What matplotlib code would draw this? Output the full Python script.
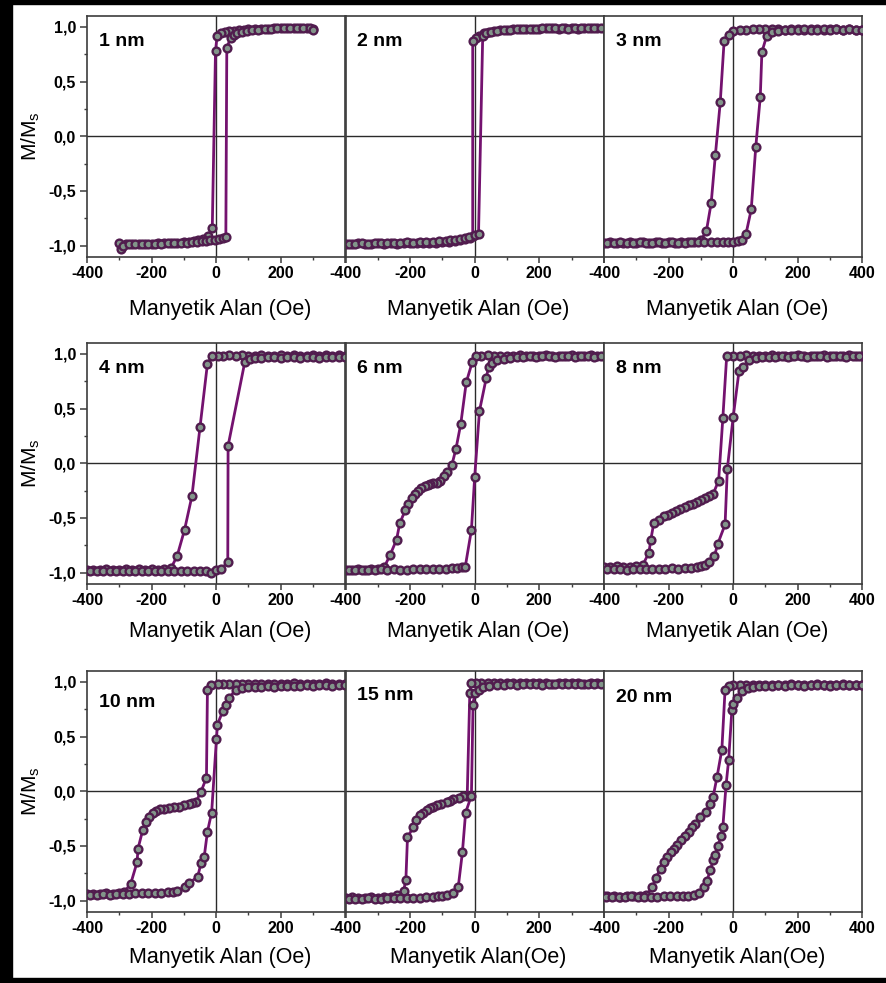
import matplotlib
matplotlib.use("Agg")
import matplotlib.pyplot as plt
from matplotlib.ticker import MultipleLocator, FuncFormatter
from matplotlib.patches import Rectangle

plt.rcParams['font.family'] = ['Liberation Sans', 'DejaVu Sans']
plt.rcParams['mathtext.default'] = 'regular'

# ---------------------------------------------------------------------------
# Hysteresis loops (field in Oe, normalised magnetisation M/Ms)
# Each branch is a list of (H, M) pairs; "DESC" sweeps + -> -, "ASC" - -> +.
# ---------------------------------------------------------------------------
THICKNESS_LABELS = ["1 nm", "2 nm", "3 nm", "4 nm", "6 nm", "8 nm",
                    "10 nm", "15 nm", "20 nm"]

X_LABELS = ["Manyetik Alan (Oe)", "Manyetik Alan (Oe)", "Manyetik Alan (Oe)",
            "Manyetik Alan (Oe)", "Manyetik Alan (Oe)", "Manyetik Alan (Oe)",
            "Manyetik Alan (Oe)", "Manyetik Alan(Oe)", "Manyetik Alan(Oe)"]

Y_LABEL = "M/M$_s$"

X_TICKS = [-400, -200, 0, 200, 400]
Y_TICKS = [-1.0, -0.5, 0.0, 0.5, 1.0]

DESC_1 = [(300, 0.98), (280, 0.99), (260, 0.99), (240, 0.99), (220, 0.99), (200, 0.99),
          (180, 0.99), (160, 0.98), (140, 0.98), (120, 0.98), (100, 0.98), (85, 0.97),
          (70, 0.97), (55, 0.96), (40, 0.96), (28, 0.95), (15, 0.94), (3, 0.92),
          (-2, 0.78), (-12, -0.84), (-25, -0.91), (-40, -0.94), (-55, -0.95), (-70, -0.96),
          (-85, -0.97), (-100, -0.97), (-120, -0.98), (-140, -0.98), (-160, -0.98),
          (-180, -0.98), (-200, -0.99), (-220, -0.99), (-240, -0.99), (-260, -0.99),
          (-280, -0.99), (-300, -0.98)]
ASC_1 = [(-295, -1.03), (-290, -1.0), (-270, -0.99), (-250, -0.99), (-230, -0.99),
         (-210, -0.99), (-190, -0.99), (-170, -0.99), (-150, -0.98), (-130, -0.98),
         (-110, -0.98), (-90, -0.98), (-75, -0.97), (-60, -0.97), (-45, -0.96),
         (-30, -0.96), (-18, -0.95), (-5, -0.95), (8, -0.94), (20, -0.93), (30, -0.92),
         (33, 0.81), (45, 0.90), (55, 0.93), (65, 0.94), (80, 0.95), (95, 0.96),
         (110, 0.97), (130, 0.97), (150, 0.98), (170, 0.98), (190, 0.99), (210, 0.99),
         (230, 0.99), (250, 0.99), (270, 0.99), (290, 0.99), (300, 0.97)]

DESC_2 = [(400, 0.99), (380, 0.99), (360, 0.99), (340, 0.99), (320, 0.98), (300, 0.99),
          (280, 0.99), (260, 0.98), (240, 0.99), (220, 0.99), (200, 0.98), (180, 0.98),
          (160, 0.98), (140, 0.98), (120, 0.98), (100, 0.97), (80, 0.97), (60, 0.96),
          (45, 0.95), (30, 0.94), (15, 0.92), (5, 0.90), (-6, 0.87), (-6, -0.91),
          (-15, -0.93), (-30, -0.94), (-45, -0.95), (-60, -0.96), (-80, -0.97),
          (-100, -0.97), (-120, -0.98), (-140, -0.98), (-160, -0.98), (-180, -0.98),
          (-200, -0.98), (-220, -0.98), (-240, -0.99), (-260, -0.98), (-280, -0.99),
          (-300, -0.98), (-320, -0.99), (-340, -0.99), (-360, -0.98), (-380, -0.99),
          (-400, -0.99)]
ASC_2 = [(-390, -0.99), (-370, -0.99), (-350, -0.98), (-330, -0.99), (-310, -0.98),
         (-290, -0.98), (-270, -0.98), (-250, -0.98), (-230, -0.98), (-210, -0.97),
         (-190, -0.98), (-170, -0.97), (-150, -0.97), (-130, -0.97), (-110, -0.96),
         (-90, -0.96), (-75, -0.95), (-60, -0.95), (-45, -0.94), (-30, -0.93),
         (-18, -0.92), (0, -0.90), (12, -0.89), (25, 0.92), (35, 0.94), (50, 0.95),
         (70, 0.96), (90, 0.97), (110, 0.97), (130, 0.98), (150, 0.98), (170, 0.98),
         (190, 0.98), (210, 0.99), (230, 0.99), (250, 0.99), (270, 0.99), (290, 0.98),
         (310, 0.99), (330, 0.99), (350, 0.99), (370, 0.99), (390, 0.99)]

DESC_3 = [(400, 0.97), (380, 0.97), (360, 0.98), (340, 0.97), (320, 0.98), (300, 0.98),
          (280, 0.97), (260, 0.98), (240, 0.98), (220, 0.97), (200, 0.98), (180, 0.98),
          (160, 0.97), (140, 0.98), (120, 0.98), (100, 0.98), (80, 0.98), (60, 0.98),
          (40, 0.97), (20, 0.97), (0, 0.96), (-12, 0.93), (-28, 0.87), (-40, 0.31),
          (-55, -0.17), (-68, -0.61), (-83, -0.87), (-100, -0.95), (-120, -0.97),
          (-140, -0.97), (-160, -0.97), (-180, -0.98), (-200, -0.97), (-220, -0.98),
          (-240, -0.97), (-260, -0.98), (-280, -0.97), (-300, -0.98), (-320, -0.97),
          (-340, -0.98), (-360, -0.98), (-380, -0.97), (-400, -0.98)]
ASC_3 = [(-390, -0.98), (-370, -0.98), (-350, -0.97), (-330, -0.98), (-310, -0.98),
         (-290, -0.97), (-270, -0.98), (-250, -0.98), (-230, -0.97), (-210, -0.98),
         (-190, -0.97), (-170, -0.98), (-150, -0.98), (-130, -0.97), (-110, -0.97),
         (-90, -0.97), (-70, -0.97), (-50, -0.97), (-30, -0.97), (-15, -0.97),
         (0, -0.97), (15, -0.96), (28, -0.95), (40, -0.89), (56, -0.67), (70, -0.10),
         (84, 0.36), (89, 0.77), (104, 0.92), (120, 0.95), (140, 0.96), (160, 0.97),
         (180, 0.97), (200, 0.97), (220, 0.98), (240, 0.97), (260, 0.97), (280, 0.98),
         (300, 0.97), (320, 0.98), (340, 0.97), (360, 0.98), (380, 0.97), (400, 0.97)]

DESC_4 = [(400, 0.98), (380, 0.99), (360, 0.98), (340, 0.99), (320, 0.98), (300, 0.99),
          (280, 0.98), (260, 0.98), (240, 0.99), (220, 0.98), (200, 0.99), (180, 0.98),
          (160, 0.98), (140, 0.99), (120, 0.98), (100, 0.98), (80, 0.99), (60, 0.98),
          (40, 0.99), (20, 0.98), (5, 0.98), (-12, 0.98), (-27, 0.91), (-50, 0.33),
          (-75, -0.30), (-98, -0.61), (-121, -0.85), (-140, -0.96), (-160, -0.97),
          (-180, -0.98), (-200, -0.97), (-220, -0.98), (-240, -0.97), (-260, -0.98),
          (-280, -0.97), (-300, -0.98), (-320, -0.98), (-340, -0.97), (-360, -0.98),
          (-380, -0.98), (-400, -0.98)]
ASC_4 = [(-390, -0.99), (-370, -0.99), (-350, -0.99), (-330, -0.99), (-310, -0.99),
         (-290, -0.99), (-270, -0.99), (-250, -0.99), (-230, -0.99), (-210, -0.99),
         (-190, -0.99), (-170, -0.99), (-150, -0.99), (-130, -0.99), (-110, -0.99),
         (-90, -0.99), (-70, -0.99), (-50, -0.99), (-30, -0.99), (-15, -1.0),
         (0, -0.98), (16, -0.97), (36, -0.90), (37, 0.16), (89, 0.93), (105, 0.95),
         (120, 0.96), (140, 0.96), (160, 0.97), (180, 0.97), (200, 0.96), (220, 0.97),
         (240, 0.97), (260, 0.96), (280, 0.97), (300, 0.97), (320, 0.96), (340, 0.97),
         (360, 0.97), (380, 0.97), (400, 0.97)]

DESC_6 = [(400, 0.98), (380, 0.98), (360, 0.99), (340, 0.98), (320, 0.98), (300, 0.99),
          (280, 0.98), (260, 0.98), (240, 0.98), (220, 0.99), (200, 0.98), (180, 0.98),
          (160, 0.98), (140, 0.99), (120, 0.98), (100, 0.98), (80, 0.98), (60, 0.98),
          (40, 0.99), (20, 0.98), (5, 0.98), (-7, 0.93), (-26, 0.74), (-43, 0.36),
          (-58, 0.13), (-71, -0.02), (-87, -0.08), (-95, -0.12), (-108, -0.16),
          (-118, -0.18), (-128, -0.185), (-138, -0.19), (-146, -0.20), (-155, -0.21),
          (-165, -0.23), (-175, -0.25), (-185, -0.28), (-195, -0.32), (-205, -0.37),
          (-215, -0.43), (-232, -0.55), (-242, -0.70), (-262, -0.84), (-280, -0.95),
          (-300, -0.97), (-320, -0.97), (-340, -0.98), (-360, -0.97), (-380, -0.98),
          (-400, -0.98)]
ASC_6 = [(-390, -0.98), (-370, -0.98), (-350, -0.98), (-330, -0.98), (-310, -0.98),
         (-290, -0.97), (-270, -0.98), (-250, -0.97), (-230, -0.98), (-210, -0.98),
         (-190, -0.97), (-170, -0.97), (-150, -0.97), (-130, -0.97), (-110, -0.97),
         (-90, -0.97), (-70, -0.96), (-55, -0.96), (-40, -0.95), (-29, -0.945),
         (-10, -0.61), (0, -0.13), (15, 0.48), (36, 0.78), (43, 0.88), (55, 0.92),
         (70, 0.94), (90, 0.95), (110, 0.96), (130, 0.97), (150, 0.97), (170, 0.98),
         (190, 0.97), (210, 0.98), (230, 0.98), (250, 0.97), (270, 0.98), (290, 0.98),
         (310, 0.97), (330, 0.98), (350, 0.98), (370, 0.97), (390, 0.98)]

DESC_8 = [(400, 0.98), (380, 0.98), (360, 0.99), (340, 0.98), (320, 0.98), (300, 0.98),
          (280, 0.99), (260, 0.98), (240, 0.98), (220, 0.98), (200, 0.99), (180, 0.98),
          (160, 0.98), (140, 0.98), (120, 0.99), (100, 0.98), (80, 0.98), (60, 0.98),
          (40, 0.99), (20, 0.98), (0, 0.98), (-20, 0.98), (-32, 0.41), (-45, -0.16),
          (-62, -0.28), (-75, -0.30), (-86, -0.32), (-100, -0.34), (-112, -0.355),
          (-125, -0.37), (-138, -0.38), (-150, -0.40), (-164, -0.42), (-176, -0.44),
          (-189, -0.455), (-202, -0.47), (-215, -0.48), (-231, -0.52), (-246, -0.55),
          (-255, -0.70), (-261, -0.82), (-280, -0.93), (-300, -0.94), (-320, -0.95),
          (-340, -0.95), (-360, -0.94), (-380, -0.95), (-400, -0.95)]
ASC_8 = [(-390, -0.97), (-370, -0.97), (-350, -0.97), (-330, -0.98), (-310, -0.97),
         (-290, -0.97), (-270, -0.97), (-250, -0.97), (-230, -0.97), (-210, -0.97),
         (-190, -0.96), (-170, -0.97), (-150, -0.96), (-130, -0.96), (-112, -0.95),
         (-100, -0.94), (-88, -0.93), (-76, -0.905), (-58, -0.85), (-48, -0.74),
         (-25, -0.56), (-18, -0.05), (0, 0.42), (18, 0.84), (31, 0.88), (48, 0.94),
         (70, 0.96), (90, 0.97), (110, 0.97), (130, 0.97), (150, 0.98), (170, 0.97),
         (190, 0.98), (210, 0.98), (230, 0.97), (250, 0.98), (270, 0.98), (290, 0.97),
         (310, 0.98), (330, 0.98), (350, 0.97), (370, 0.98), (390, 0.98)]

DESC_10 = [(400, 0.98), (380, 0.98), (360, 0.98), (340, 0.99), (320, 0.98), (300, 0.98),
           (280, 0.98), (260, 0.98), (240, 0.99), (220, 0.98), (200, 0.98), (180, 0.98),
           (160, 0.98), (140, 0.98), (120, 0.98), (100, 0.98), (80, 0.98), (60, 0.98),
           (40, 0.98), (20, 0.98), (5, 0.98), (-15, 0.97), (-27, 0.93), (-30, 0.125),
           (-47, -0.005), (-63, -0.10), (-75, -0.11), (-84, -0.12), (-100, -0.13),
           (-114, -0.14), (-130, -0.145), (-145, -0.15), (-160, -0.16), (-175, -0.165),
           (-187, -0.18), (-197, -0.20), (-208, -0.235), (-216, -0.28), (-227, -0.35),
           (-242, -0.525), (-245, -0.65), (-265, -0.85), (-285, -0.92), (-300, -0.93),
           (-320, -0.94), (-340, -0.93), (-360, -0.94), (-380, -0.94), (-400, -0.94)]
ASC_10 = [(-390, -0.95), (-370, -0.95), (-350, -0.94), (-330, -0.95), (-310, -0.94),
          (-290, -0.94), (-270, -0.94), (-250, -0.93), (-230, -0.93), (-210, -0.93),
          (-190, -0.93), (-170, -0.93), (-150, -0.92), (-135, -0.92), (-120, -0.91),
          (-98, -0.88), (-83, -0.84), (-57, -0.78), (-47, -0.66), (-37, -0.60),
          (-27, -0.37), (-14, -0.195), (1, 0.48), (4, 0.61), (20, 0.73), (30, 0.79),
          (40, 0.85), (60, 0.93), (80, 0.94), (100, 0.95), (120, 0.95), (140, 0.95),
          (160, 0.96), (180, 0.95), (200, 0.96), (220, 0.96), (240, 0.96), (260, 0.96),
          (280, 0.97), (300, 0.96), (320, 0.97), (340, 0.97), (360, 0.96), (380, 0.97),
          (400, 0.97)]

DESC_15 = [(400, 0.99), (380, 0.99), (360, 0.99), (340, 0.98), (320, 0.99), (300, 0.99),
           (280, 0.99), (260, 0.99), (240, 0.98), (220, 0.99), (200, 0.99), (180, 0.99),
           (160, 0.99), (140, 0.99), (120, 0.99), (100, 0.99), (80, 0.99), (60, 0.99),
           (40, 0.99), (20, 0.99), (5, 0.99), (-10, 0.99), (-15, 0.90), (-23, -0.04),
           (-35, -0.045), (-50, -0.06), (-67, -0.07), (-77, -0.085), (-87, -0.10),
           (-103, -0.115), (-118, -0.13), (-128, -0.14), (-138, -0.155), (-148, -0.17),
           (-159, -0.195), (-170, -0.22), (-182, -0.26), (-190, -0.33), (-208, -0.42),
           (-213, -0.81), (-220, -0.91), (-240, -0.95), (-260, -0.97), (-280, -0.97),
           (-300, -0.98), (-320, -0.97), (-340, -0.98), (-360, -0.98), (-380, -0.97),
           (-400, -0.98)]
ASC_15 = [(-390, -0.99), (-370, -0.99), (-350, -0.99), (-330, -0.98), (-310, -0.99),
          (-290, -0.99), (-270, -0.98), (-250, -0.98), (-230, -0.98), (-210, -0.98),
          (-190, -0.98), (-170, -0.98), (-150, -0.97), (-130, -0.97), (-115, -0.96),
          (-100, -0.96), (-85, -0.95), (-67, -0.93), (-51, -0.88), (-38, -0.56),
          (-28, -0.195), (-10, -0.04), (-5, 0.79), (0, 0.90), (12, 0.93), (25, 0.95),
          (45, 0.96), (70, 0.97), (90, 0.97), (110, 0.98), (130, 0.97), (150, 0.98),
          (170, 0.98), (190, 0.98), (210, 0.97), (230, 0.98), (250, 0.98), (270, 0.98),
          (290, 0.98), (310, 0.98), (330, 0.98), (350, 0.98), (370, 0.98), (390, 0.98)]

DESC_20 = [(400, 0.97), (380, 0.97), (360, 0.97), (340, 0.98), (320, 0.97), (300, 0.97),
           (280, 0.97), (260, 0.98), (240, 0.97), (220, 0.97), (200, 0.97), (180, 0.98),
           (160, 0.97), (140, 0.97), (120, 0.97), (100, 0.97), (80, 0.97), (60, 0.97),
           (40, 0.97), (20, 0.97), (0, 0.97), (-12, 0.96), (-25, 0.93), (-35, 0.38),
           (-50, 0.13), (-62, -0.05), (-71, -0.12), (-85, -0.19), (-102, -0.235),
           (-117, -0.30), (-127, -0.33), (-137, -0.37), (-150, -0.41), (-163, -0.45),
           (-173, -0.49), (-183, -0.525), (-194, -0.56), (-204, -0.60), (-215, -0.65),
           (-225, -0.71), (-240, -0.79), (-250, -0.88), (-270, -0.95), (-290, -0.96),
           (-310, -0.96), (-330, -0.96), (-350, -0.97), (-370, -0.96), (-390, -0.96),
           (-400, -0.96)]
ASC_20 = [(-395, -0.97), (-375, -0.97), (-355, -0.97), (-335, -0.97), (-315, -0.96),
          (-295, -0.97), (-275, -0.97), (-255, -0.97), (-235, -0.97), (-215, -0.96),
          (-195, -0.96), (-175, -0.96), (-155, -0.96), (-140, -0.96), (-120, -0.95),
          (-105, -0.93), (-91, -0.88), (-81, -0.82), (-71, -0.72), (-61, -0.63),
          (-56, -0.58), (-47, -0.50), (-38, -0.41), (-32, -0.33), (-22, 0.055),
          (-14, 0.285), (-4, 0.74), (0, 0.80), (11, 0.85), (27, 0.92), (45, 0.94),
          (60, 0.95), (80, 0.96), (100, 0.96), (120, 0.96), (140, 0.97), (160, 0.96),
          (180, 0.97), (200, 0.97), (220, 0.96), (240, 0.97), (260, 0.97), (280, 0.97),
          (300, 0.96), (320, 0.97), (340, 0.97), (360, 0.97), (380, 0.97), (400, 0.97)]

LOOPS = [(DESC_1, ASC_1), (DESC_2, ASC_2), (DESC_3, ASC_3),
         (DESC_4, ASC_4), (DESC_6, ASC_6), (DESC_8, ASC_8),
         (DESC_10, ASC_10), (DESC_15, ASC_15), (DESC_20, ASC_20)]

# ---------------------------------------------------------------------------
# Styling
# ---------------------------------------------------------------------------
LINE_COLOR = "#74126f"
MARKER_FACE = "#82958a"
MARKER_EDGE = "#511c4e"
FRAME_COLOR = "#3c3c3c"

W, H = 886, 983
fig = plt.figure(figsize=(W / 100, H / 100), dpi=100)
fig.patch.set_facecolor("white")

col_left = [87, 345.5, 604]
col_width = 258.3
row_top = [16, 343, 671]
row_height = 240.5
xlabel_y = [310, 632, 958]
panel_label_y = [0.895, 0.895, 0.895, 0.895, 0.895, 0.895, 0.87, 0.9, 0.89]


def comma_fmt(v, _pos):
    return f"{v:.1f}".replace(".", ",")


for idx, (desc, asc) in enumerate(LOOPS):
    r, c = divmod(idx, 3)
    ax = fig.add_axes([col_left[c] / W, 1 - (row_top[r] + row_height) / H,
                       col_width / W, row_height / H])
    ax.set_xlim(-400, 400)
    ax.set_ylim(-1.1, 1.1)

    ax.axhline(0, color="#2a2a2a", lw=1.0, zorder=1)
    ax.axvline(0, color="#2a2a2a", lw=1.0, zorder=1)

    for branch in (desc, asc):
        hx = [p[0] for p in branch]
        my = [p[1] for p in branch]
        ax.plot(hx, my, "-", color=LINE_COLOR, lw=2.0, zorder=2)
        ax.plot(hx, my, "o", ms=5.6, mfc=MARKER_FACE, mec=MARKER_EDGE,
                mew=1.7, zorder=3)

    for s in ax.spines.values():
        s.set_color(FRAME_COLOR)
        s.set_linewidth(1.2)

    ax.set_xticks(X_TICKS)
    ax.xaxis.set_minor_locator(MultipleLocator(100))
    if c == 2:
        ax.set_xticklabels([str(t) for t in X_TICKS])
    else:
        ax.set_xticklabels([str(t) for t in X_TICKS[:-1]] + [""])
    ax.tick_params(axis="x", which="major", direction="out", length=4, width=1.1,
                   pad=3, labelsize=11.5, colors=FRAME_COLOR, labelcolor="black")
    ax.tick_params(axis="x", which="minor", direction="out", length=2.5, width=1.0,
                   colors=FRAME_COLOR)
    for lab in ax.get_xticklabels():
        lab.set_fontweight("bold")

    if c == 0:
        ax.set_yticks(Y_TICKS)
        ax.yaxis.set_major_formatter(FuncFormatter(comma_fmt))
        ax.yaxis.set_minor_locator(MultipleLocator(0.25))
        ax.tick_params(axis="y", which="major", direction="out", length=5, width=1.1,
                       pad=3, labelsize=11.5, colors=FRAME_COLOR, labelcolor="black")
        ax.tick_params(axis="y", which="minor", direction="out", length=2.5,
                       width=1.0, colors=FRAME_COLOR)
        for lab in ax.get_yticklabels():
            lab.set_fontweight("bold")
        fig.text(31 / W, 1 - (row_top[r] + row_height / 2) / H, Y_LABEL,
                 rotation=90, ha="center", va="center", fontsize=15)
    else:
        ax.set_yticks([])

    ax.text(0.045, panel_label_y[idx], THICKNESS_LABELS[idx], transform=ax.transAxes,
            fontsize=14, fontweight="bold", ha="left", va="center")

    fig.text((col_left[c] + col_width / 2 + 4) / W, 1 - xlabel_y[r] / H,
             X_LABELS[idx], ha="center", va="center", fontsize=15.5)

# outer black frame (left, top, bottom bands)
fig.add_artist(Rectangle((0, 0), 12 / W, 1, transform=fig.transFigure,
                         color="black", zorder=10))
fig.add_artist(Rectangle((0, 1 - 4 / H), 1, 4 / H, transform=fig.transFigure,
                         color="black", zorder=10))
fig.add_artist(Rectangle((0, 0), 1, 5 / H, transform=fig.transFigure,
                         color="black", zorder=10))

fig.savefig("out.png", dpi=100)
